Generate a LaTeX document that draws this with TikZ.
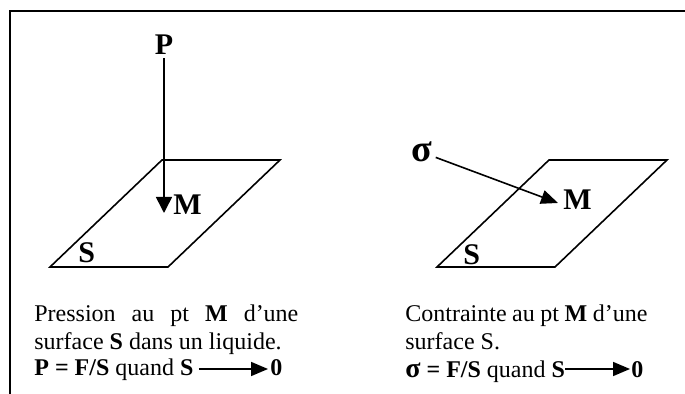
\documentclass[tikz,border=0pt]{standalone}
\usepackage{fontspec}
\setmainfont{Liberation Serif}
\usepackage{tikz}
\usetikzlibrary{%
	calc,%
	arrows.meta,%
	positioning,%
}
\tikzset{
	>={Triangle[length=8.5pt,width=7pt]},%
	framebox/.style={%
			line width=1.3pt},%
	planeline/.style={%
			line width=0.8pt,%
			line join=miter},%
	forcearrow/.style={%
			->,%
			line width=0.8pt},%
	labelnode/.style={%
			font={\fontsize{15}{18}\selectfont\bfseries},%
			inner sep=1.5pt},%
	textnode/.style={%
			font={\fontsize{12}{14}\selectfont},%
			inner sep=0pt,%
			anchor=base west},%
	parnode/.style={%
			textnode,%
			align=justify},%
}
\newcommand{\plane}[1]{(#1) -- ++(112,-107) -- ++(118,0) -- ++(-112,107) -- cycle}
\newcommand{\bigsigma}{{\fontsize{19}{20}\selectfont σ}}

\begin{document}
\begin{tikzpicture}[x=0.5pt, y=-0.5pt]%
	\useasboundingbox (0,0) rectangle (685,394);
	\draw[framebox] (10,394) -- (10,11) -- (685,11);

	% pression
	\draw[planeline] \plane{50,267};
	\node[labelnode, anchor=base] (nP) at (164,55) {P};
	\coordinate (mL) at (164,213);
	\node[labelnode, anchor=base west, inner sep=0pt] (lM) at (173,215) {M};
	\node[labelnode, anchor=base west, inner sep=0pt] (lSL) at (78,263) {S};
	\draw[forcearrow, >={Triangle[length=8pt,width=8pt]}] (nP.south) -- (mL);

	\node[parnode, text width=132pt] (tL) at (34,322) {Pression au pt \textbf{M} d'une\linebreak surface \textbf{S} dans un liquide.};
	\node[textnode] (fL) at (34,376) {\textbf{P = F/S} quand \textbf{S}};
	\node[textnode] (zL) at (270,376) {\textbf{0}};
	\draw[forcearrow] ([xshift=2.5pt, yshift=3.5pt]fL.base east) -- ([xshift=-1pt, yshift=3.5pt]zL.base west);

	% contrainte
	\draw[planeline] \plane{437,267};
	\node[labelnode, anchor=base] (nS) at (422,162) {\bigsigma};
	\coordinate (mR) at (558,203);
	\node[labelnode, anchor=base west, inner sep=0pt] (rM) at (563,210) {M};
	\node[labelnode, anchor=base west, inner sep=0pt] (lSR) at (463,265) {S};
	\draw[forcearrow] (nS) -- (mR);

	\node[parnode, text width=121pt] (tR) at (405,322) {Contrainte au pt \textbf{M} d'une\linebreak surface S.};
	\node[textnode] (fR) at (405,378) {\textbf{{\fontsize{14}{14}\selectfont σ} = F/S} quand \textbf{S}};
	\node[textnode] (zR) at (631,378) {\textbf{0}};
	\draw[forcearrow] ([yshift=4.5pt]fR.base east) -- ([xshift=-0.5pt, yshift=4.5pt]zR.base west);
\end{tikzpicture}
\end{document}
